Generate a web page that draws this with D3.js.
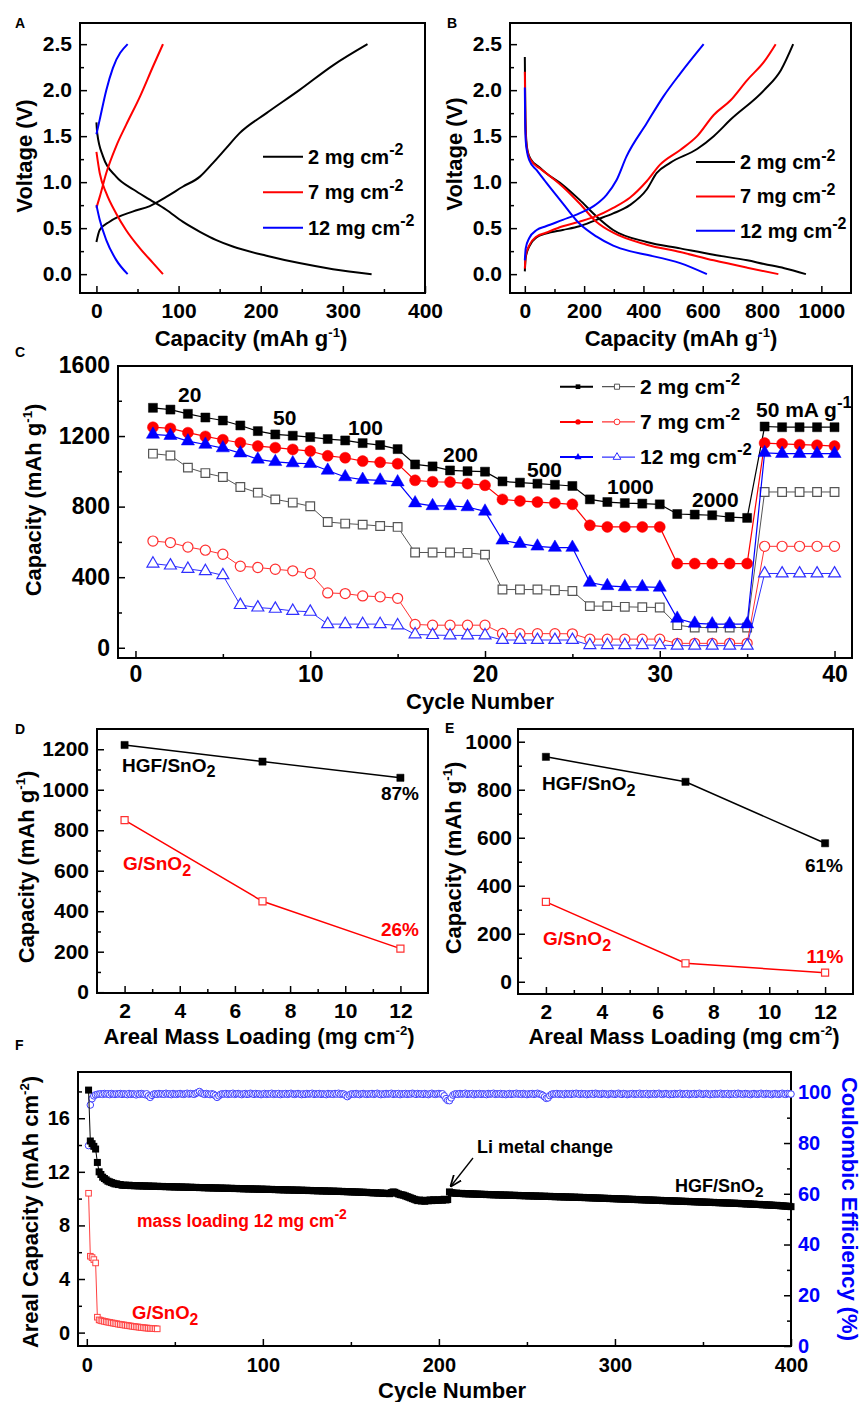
<!DOCTYPE html>
<html>
<head>
<meta charset="utf-8">
<title>SnO2 electrodes</title>
<script src="https://cdnjs.cloudflare.com/ajax/libs/d3/7.8.5/d3.min.js"></script>
<style>
  body { margin: 0; background: #fff; }
  svg text { font-family: "Liberation Sans", Arial, sans-serif; font-weight: bold; }
</style>
</head>
<body>
<svg id="fig" width="861" height="1402"></svg>
<script>
// ---------- data ----------
// A: voltage profiles, 2 / 7 / 12 mg cm-2  [capacity, voltage]
const aDis2 = [[0,1.65],[1,1.53],[8,1.28],[24,1.06],[45,0.92],[65,0.81],[85,0.70],[105,0.57],[126,0.46],[146,0.37],[166,0.30],[207,0.20],[247,0.12],[288,0.054],[335,0]]
const aCh2 = [[0,0.35],[4,0.48],[16,0.57],[44,0.68],[65,0.74],[85,0.84],[105,0.95],[126,1.06],[142,1.21],[158,1.37],[174,1.53],[207,1.75],[247,2.0],[288,2.27],[330,2.5]]
const aDis7 = [[0,1.33],[4,1.10],[12,0.88],[24,0.66],[36,0.48],[53,0.28],[69,0.12],[81,0]]
const aCh7 = [[0,0.72],[4,0.84],[12,1.10],[24,1.39],[36,1.62],[53,1.93],[69,2.26],[81,2.5]]
const aDis12 = [[0,0.75],[4,0.59],[12,0.37],[24,0.155],[38,0]]
const aCh12 = [[0,1.52],[4,1.68],[12,2.0],[20,2.24],[38,2.5]]

// B
const bDis2 = [[0,2.36],[1,2.0],[2,1.7],[5,1.45],[10,1.33],[20,1.25],[50,1.16],[71,1.10],[128,0.97],[184,0.81],[241,0.63],[298,0.48],[411,0.35],[524,0.28],[637,0.21],[750,0.15],[807,0.11],[875,0.065],[948,0]]
const bDis7 = [[0,2.2],[1,1.9],[2,1.65],[5,1.42],[10,1.32],[20,1.24],[50,1.15],[71,1.10],[128,0.95],[184,0.77],[241,0.57],[298,0.45],[411,0.32],[524,0.24],[637,0.15],[750,0.07],[855,0]]
const bDis12 = [[0,2.03],[1,1.7],[3,1.45],[8,1.32],[15,1.24],[40,1.13],[71,1.00],[128,0.77],[184,0.55],[241,0.41],[298,0.31],[354,0.25],[411,0.21],[524,0.12],[614,0]]
const bCh2 = [[0,0.03],[3,0.18],[14.6,0.30],[40,0.40],[71,0.44],[128,0.48],[184,0.52],[241,0.59],[298,0.66],[354,0.75],[411,0.92],[445,1.10],[490,1.21],[581,1.36],[637,1.50],[694,1.68],[807,2.0],[864,2.22],[905,2.5]]
const bCh7 = [[0,0.06],[3,0.2],[14.6,0.31],[40,0.41],[71,0.45],[128,0.52],[184,0.57],[241,0.63],[298,0.72],[354,0.83],[411,1.01],[456,1.19],[524,1.35],[581,1.50],[637,1.73],[694,1.89],[750,2.11],[807,2.31],[846,2.5]]
const bCh12 = [[0,0.15],[3,0.28],[14.6,0.39],[40,0.48],[71,0.52],[128,0.59],[184,0.66],[241,0.76],[275,0.86],[309,1.02],[343,1.28],[411,1.64],[467,1.93],[524,2.18],[603,2.5]]

// C: rate capability, cycles 1-40
const cyclesC = [1,2,3,4,5,6,7,8,9,10,11,12,13,14,15,16,17,18,19,20,21,22,23,24,25,26,27,28,29,30,31,32,33,34,35,36,37,38,39,40]
const hgf2 = [1360,1350,1326,1305,1288,1260,1228,1209,1202,1194,1183,1175,1160,1149,1126,1039,1028,1005,1001,998,943,936,930,924,917,841,826,820,817,813,758,755,751,741,736,1254,1250,1250,1250,1250]
const hgf7 = [1250,1243,1219,1198,1179,1162,1143,1134,1124,1115,1088,1077,1058,1051,1043,949,941,939,930,921,841,832,826,820,813,694,685,685,685,685,477,477,477,477,477,1160,1156,1151,1148,1143]
const hgf12 = [1209,1202,1171,1152,1132,1103,1068,1054,1047,1043,1005,968,953,949,939,820,804,804,798,773,609,590,575,568,568,370,351,345,345,342,166,138,134,134,134,1105,1100,1100,1100,1100]
const gs2 = [1100,1090,1021,990,968,911,879,841,823,802,713,704,698,690,685,540,540,540,538,528,330,330,330,326,322,236,236,232,230,228,128,115,115,115,115,883,883,883,883,883]
const gs7 = [605,596,571,553,530,462,455,445,436,421,311,307,294,289,280,132,128,128,128,128,81,80,80,80,79,49,49,49,49,49,25,25,25,25,25,575,575,575,575,575]
const gs12 = [477,466,447,434,411,242,228,221,209,204,134,134,134,134,127,76,72,70,70,70,44,44,44,44,44,15,15,15,15,15,12,12,12,12,12,421,421,421,421,421]
const rateLabels = [["20",178,402],["50",273,425],["100",348,435],["200",443,462],["500",527,477],["1000",607,494],["2000",692,507]]

// D, E: capacity vs loading
const loading = [2,7,12]
const hgfD = [1221,1139,1059]
const gD = [850,449,215]
const hgfE = [937,833,577]
const gE = [333,77,38]

// F: long cycling at 12 mg cm-2
const hgfF = [
18.1,14.3,14.1,13.9,13.7,12.7,12.0,11.8,11.6,11.5,11.4,11.3,11.25,11.2,11.15,11.1,11.1,11.05,11.05,11.0,
11.0,11.0,10.98,11.0,10.97,10.98,10.96,10.97,10.95,10.96,10.95,10.94,10.95,10.93,10.94,10.93,10.92,10.93,10.91,10.92,
10.91,10.9,10.91,10.9,10.89,10.9,10.88,10.89,10.88,10.87,10.88,10.87,10.86,10.87,10.85,10.86,10.85,10.84,10.85,10.84,
10.83,10.84,10.83,10.82,10.83,10.82,10.81,10.82,10.8,10.81,10.8,10.79,10.8,10.79,10.78,10.79,10.78,10.77,10.78,10.77,
10.76,10.77,10.76,10.75,10.76,10.75,10.74,10.75,10.73,10.74,10.73,10.72,10.73,10.72,10.71,10.72,10.71,10.7,10.71,10.7,
10.69,10.7,10.69,10.68,10.69,10.68,10.67,10.68,10.66,10.67,10.66,10.65,10.66,10.65,10.64,10.65,10.64,10.63,10.64,10.63,
10.62,10.63,10.62,10.61,10.62,10.6,10.61,10.6,10.59,10.6,10.58,10.59,10.58,10.57,10.58,10.56,10.57,10.56,10.55,10.56,
10.55,10.54,10.55,10.53,10.54,10.52,10.53,10.51,10.52,10.5,10.51,10.49,10.5,10.48,10.49,10.47,10.48,10.46,10.47,10.45,
10.45,10.44,10.43,10.44,10.42,10.41,10.42,10.4,10.39,10.4,10.38,10.37,10.45,10.5,10.47,10.4,10.35,10.3,10.28,10.25,
10.2,10.15,10.1,10.05,10.0,9.95,9.9,9.85,9.9,9.82,9.85,9.8,9.88,9.84,9.9,9.85,9.92,9.86,9.9,9.88,
9.92,9.88,9.95,9.9,9.93,10.5,10.45,10.42,10.4,10.41,10.39,10.38,10.39,10.37,10.36,10.37,10.35,10.36,10.34,10.35,
10.33,10.34,10.32,10.33,10.31,10.32,10.3,10.31,10.29,10.3,10.28,10.29,10.28,10.27,10.28,10.26,10.27,10.26,10.25,10.26,
10.25,10.24,10.25,10.23,10.24,10.22,10.23,10.22,10.21,10.22,10.2,10.21,10.2,10.19,10.2,10.18,10.19,10.18,10.17,10.18,
10.17,10.16,10.17,10.15,10.16,10.14,10.15,10.14,10.13,10.14,10.12,10.13,10.12,10.11,10.12,10.1,10.11,10.1,10.09,10.1,
10.08,10.09,10.07,10.08,10.06,10.07,10.05,10.06,10.04,10.05,10.03,10.04,10.02,10.03,10.01,10.02,10.0,10.01,9.99,10.0,
9.98,9.99,9.97,9.98,9.96,9.97,9.95,9.96,9.94,9.95,9.93,9.94,9.92,9.93,9.91,9.92,9.9,9.91,9.89,9.9,
9.88,9.89,9.87,9.88,9.86,9.87,9.85,9.86,9.84,9.85,9.83,9.84,9.82,9.83,9.81,9.82,9.8,9.81,9.79,9.8,
9.78,9.79,9.77,9.78,9.76,9.77,9.75,9.76,9.74,9.75,9.73,9.74,9.72,9.73,9.71,9.72,9.7,9.71,9.69,9.7,
9.68,9.69,9.67,9.68,9.66,9.67,9.65,9.66,9.64,9.65,9.63,9.62,9.63,9.61,9.6,9.61,9.59,9.58,9.59,9.57,
9.56,9.57,9.55,9.54,9.55,9.53,9.52,9.53,9.51,9.5,9.49,9.5,9.48,9.47,9.46,9.45,9.44,9.43,9.42,9.4]
const ceF = [
79,95,97.5,98.6,99.0,99.2,99.3,99.4,99.2,99.5,99.3,99.4,99.1,99.5,99.3,99.2,99.4,99.3,99.5,99.2,
99.4,99.3,99.1,99.5,99.2,99.4,99.3,99.0,99.4,99.2,99.5,99.3,99.1,99.4,98.6,98.0,98.8,99.3,99.4,99.2,
99.5,99.3,99.4,99.2,99.6,99.3,99.4,99.1,99.5,99.3,99.2,99.4,99.5,99.3,99.2,99.4,99.6,99.3,99.5,99.4,
99.2,99.6,99.9,100.3,99.7,99.4,99.2,99.5,99.3,99.1,99.4,99.2,98.7,98.0,98.6,99.2,99.4,99.3,99.5,99.2,
99.4,99.3,99.6,99.2,99.4,99.5,99.3,99.1,99.4,99.5,99.2,99.3,99.6,99.4,99.2,99.5,99.3,99.4,99.1,99.3,
99.5,99.2,99.4,99.3,99.6,99.2,99.4,99.3,99.5,99.1,99.4,99.3,99.5,99.2,99.4,99.6,99.3,99.2,99.4,99.5,
99.3,99.1,99.4,99.2,99.5,99.3,99.4,99.6,99.2,99.4,99.3,99.5,99.2,99.4,99.3,99.1,99.5,99.3,99.4,99.2,
99.5,99.3,99.6,99.2,99.4,99.3,98.8,98.3,98.9,99.3,99.4,99.2,99.5,99.3,99.1,99.4,99.5,99.3,99.2,99.4,
99.3,99.5,99.2,99.4,99.6,99.3,99.1,99.4,99.2,99.5,99.3,99.4,99.6,99.2,99.4,99.3,99.5,99.1,99.4,99.3,
99.5,99.2,99.4,99.3,99.6,99.4,99.2,99.5,99.3,99.4,99.2,99.5,99.3,99.1,99.4,99.6,99.3,99.2,99.4,99.5,
99.3,99.4,98.6,97.5,96.8,96.7,97.8,98.9,99.3,99.4,99.2,99.5,99.3,99.4,99.6,99.2,99.4,99.3,99.5,99.1,
99.4,99.3,99.5,99.2,99.4,99.3,99.1,99.5,99.3,99.4,99.6,99.2,99.4,99.3,99.5,99.2,99.4,99.1,99.3,99.5,
99.2,99.4,99.3,99.6,99.3,99.4,99.2,99.5,99.3,99.1,99.4,99.3,99.5,99.2,99.4,99.6,99.3,99.2,98.8,98.2,
97.6,97.8,98.7,99.2,99.4,99.3,99.5,99.2,99.4,99.3,99.1,99.5,99.3,99.4,99.2,99.5,99.3,99.6,99.4,99.2,
99.5,99.3,99.4,99.1,99.4,99.3,99.5,99.2,99.6,99.4,99.3,99.2,99.5,99.4,99.3,99.1,99.4,99.5,99.3,99.2,
99.4,99.6,99.3,99.2,99.5,99.4,99.1,99.3,99.4,99.5,99.2,99.4,99.3,99.6,99.2,99.4,99.3,99.5,99.1,99.4,
99.3,99.5,99.2,99.4,99.6,99.3,99.2,99.4,99.5,99.3,99.1,99.4,99.2,99.5,99.3,99.4,99.6,99.2,99.4,99.3,
99.5,99.1,99.4,99.3,99.5,99.2,99.4,99.6,99.3,99.2,99.4,99.5,99.3,99.1,99.4,99.2,99.5,99.3,99.4,99.6,
99.2,99.4,99.3,99.5,99.1,99.4,99.3,99.5,99.2,99.6,99.4,99.3,99.2,99.5,99.4,99.3,99.1,99.4,99.5,99.3,
99.2,99.4,99.6,99.3,99.2,99.5,99.4,99.3,99.1,99.4,99.5,99.3,99.2,99.4,99.6,99.3,99.2,99.5,99.4,99.3]
const gF = [10.4,5.7,5.6,5.45,5.2,1.15,0.95,0.9,0.87,0.84,0.81,0.78,0.76,0.73,0.71,0.68,0.66,0.63,0.61,0.59,
0.57,0.55,0.53,0.51,0.49,0.47,0.45,0.43,0.42,0.40,0.38,0.37,0.35,0.34,0.33,0.32,0.31,0.30,0.29,0.28]

const RED = "#ff0000", BLUE = "#0000ff"
const svg = d3.select("#fig")

// ---------- helpers ----------
function makePanel(o) {
  const g = svg.append("g")
  const x = d3.scaleLinear().domain(o.xd).range([o.l, o.r])
  const y = d3.scaleLinear().domain(o.yd).range([o.b, o.t])
  const fs = o.fs || 21
  g.append("g").attr("transform", `translate(0,${o.b})`)
    .call(d3.axisBottom(x).tickValues(o.xMinor).tickSize(-4).tickFormat(""))
  g.append("g").attr("transform", `translate(0,${o.b})`)
    .call(d3.axisBottom(x).tickValues(o.xMajor).tickSize(-7).tickPadding(o.xPad || 10).tickFormat(o.xFmt || d3.format("d")))
  g.append("g").attr("transform", `translate(${o.l},0)`)
    .call(d3.axisLeft(y).tickValues(o.yMinor).tickSize(-4).tickFormat(""))
  g.append("g").attr("transform", `translate(${o.l},0)`)
    .call(d3.axisLeft(y).tickValues(o.yMajor).tickSize(-7).tickPadding(o.yPad || 8).tickFormat(o.yFmt || d3.format("d")))
  g.selectAll(".domain").remove()
  g.selectAll(".tick line").attr("stroke-width", 1.5)
  g.selectAll(".tick text").attr("font-size", fs).attr("fill", "#000")
  g.append("rect").attr("x", o.l).attr("y", o.t).attr("width", o.r - o.l).attr("height", o.b - o.t)
    .attr("fill", "none").attr("stroke", "#000").attr("stroke-width", 2)
  return { g, x, y }
}

function label(x, y, parts, o = {}) {
  const fs = o.fs || 20
  const t = svg.append("text").attr("x", x).attr("y", y)
    .attr("font-size", fs).attr("fill", o.fill || "#000")
    .attr("text-anchor", o.anchor || "start")
  if (o.rotate) t.attr("transform", `rotate(${o.rotate},${x},${y})`)
  let shift = 0
  parts.forEach(p => {
    const s = t.append("tspan")
    if (typeof p === "string") {
      s.text(p)
      if (shift) { s.attr("dy", -shift); shift = 0 }
    } else {
      const d = p.sup ? -fs * 0.42 : fs * 0.3
      s.attr("font-size", fs * (p.k || 0.65)).attr("dy", d - shift).text(p.t)
      shift = d
    }
  })
  return t
}

function curve(p, data, color) {
  p.g.append("path").datum(data)
    .attr("d", d3.line().x(d => p.x(d[0])).y(d => p.y(d[1])).curve(d3.curveMonotoneX))
    .attr("fill", "none").attr("stroke", color).attr("stroke-width", 2)
}

function series(p, xs, ys, o) {
  const pts = xs.map((c, i) => [c, ys[i]])
  p.g.append("path").datum(pts)
    .attr("d", d3.line().x(d => p.x(d[0])).y(d => p.y(d[1])))
    .attr("fill", "none").attr("stroke", o.line || o.color).attr("stroke-width", o.lw || 1.2)
  p.g.selectAll(null).data(pts).enter().append("path")
    .attr("transform", d => `translate(${p.x(d[0])},${p.y(d[1])})`)
    .attr("d", d3.symbol().type(o.sym).size(o.size))
    .attr("fill", o.open ? "#fff" : o.color)
    .attr("stroke", o.color).attr("stroke-width", o.open ? 1.2 : 0.5)
}

// ---------- panel letters ----------
;[["A",15,28],["B",447,28],["C",15,357],["D",15,734],["E",445,733],["F",15,1050]].forEach(d =>
  label(d[1], d[2], [d[0]], { fs: 14 }))

// ---------- A ----------
const fmt1 = d3.format(".1f")
const vMinor = [0.25, 0.75, 1.25, 1.75, 2.25]
const A = makePanel({ l: 80, t: 23, r: 425, b: 293, xd: [-20, 400], yd: [-0.205, 2.73],
  xMajor: [0, 100, 200, 300, 400], xMinor: [50, 150, 250, 350],
  yMajor: [0, 0.5, 1, 1.5, 2, 2.5], yMinor: vMinor, yFmt: fmt1 })
curve(A, aDis2, "#000"); curve(A, aCh2, "#000")
curve(A, aDis7, RED); curve(A, aCh7, RED)
curve(A, aDis12, BLUE); curve(A, aCh12, BLUE)

// ---------- B ----------
const B = makePanel({ l: 510, t: 23, r: 851, b: 293, xd: [-50, 1100], yd: [-0.205, 2.73],
  xMajor: [0, 200, 400, 600, 800, 1000], xMinor: [100, 300, 500, 700, 900],
  yMajor: [0, 0.5, 1, 1.5, 2, 2.5], yMinor: vMinor, yFmt: fmt1 })
curve(B, bDis2, "#000"); curve(B, bCh2, "#000")
curve(B, bDis7, RED); curve(B, bCh7, RED)
curve(B, bDis12, BLUE); curve(B, bCh12, BLUE)

const legAB = [["2", "#000"], ["7", RED], ["12", BLUE]]
legAB.forEach((d, i) => {
  ;[[263, 303, 308, 156.7 + i * 35.5], [696, 735, 740, 162 + i * 34.4]].forEach(r => {
    svg.append("line").attr("x1", r[0]).attr("x2", r[1]).attr("y1", r[3]).attr("y2", r[3])
      .attr("stroke", d[1]).attr("stroke-width", 2)
    label(r[2], r[3] + 7, [d[0] + " mg cm", { t: "-2", sup: true, k: 0.8 }], { fs: 20 })
  })
})

const capTitle = ["Capacity (mAh g", { t: "-1", sup: true, k: 0.6 }, ")"]
label(32, 156, ["Voltage (V)"], { fs: 22, anchor: "middle", rotate: -90 })
label(462, 154, ["Voltage (V)"], { fs: 22, anchor: "middle", rotate: -90 })
label(251, 346, capTitle, { fs: 22, anchor: "middle" })
label(681, 346, capTitle, { fs: 22, anchor: "middle" })

// ---------- C ----------
const C = makePanel({ l: 118, t: 366, r: 852, b: 658, xd: [-1, 41], yd: [-58, 1597],
  xMajor: [0, 10, 20, 30, 40], xMinor: [5, 15, 25, 35],
  yMajor: [0, 400, 800, 1200, 1600], yMinor: [200, 600, 1000, 1400], fs: 23, xPad: 8 })
series(C, cyclesC, gs2, { color: "#555", sym: d3.symbolSquare, size: 75, open: true, lw: 1 })
series(C, cyclesC, gs7, { color: "#ff3030", sym: d3.symbolCircle, size: 80, open: true, lw: 1 })
series(C, cyclesC, gs12, { color: "#3030ff", sym: d3.symbolTriangle, size: 62, open: true, lw: 1 })
series(C, cyclesC, hgf2, { color: "#000", sym: d3.symbolSquare, size: 81 })
series(C, cyclesC, hgf7, { color: RED, sym: d3.symbolCircle, size: 95 })
series(C, cyclesC, hgf12, { color: BLUE, sym: d3.symbolTriangle, size: 75 })

rateLabels.forEach(d => label(d[1], d[2], [d[0]], { fs: 21 }))
label(756, 417, ["50 mA g", { t: "-1", sup: true, k: 0.8 }], { fs: 21 })

const legC = [["2", "#000", "#555", d3.symbolSquare], ["7", RED, "#ff3030", d3.symbolCircle], ["12", BLUE, "#3030ff", d3.symbolTriangle]]
legC.forEach((d, i) => {
  const yy = 386.7 + i * 35.2
  svg.append("line").attr("x1", 560).attr("x2", 593).attr("y1", yy).attr("y2", yy).attr("stroke", d[1]).attr("stroke-width", 2)
  svg.append("line").attr("x1", 602).attr("x2", 635).attr("y1", yy).attr("y2", yy).attr("stroke", d[2]).attr("stroke-width", 1.2)
  svg.append("path").attr("transform", `translate(578,${yy})`).attr("d", d3.symbol().type(d[3]).size(22)).attr("fill", d[1])
  svg.append("path").attr("transform", `translate(617,${yy})`).attr("d", d3.symbol().type(d[3]).size(26))
    .attr("fill", "#fff").attr("stroke", d[2]).attr("stroke-width", 1)
  label(640, yy + 7, [d[0] + " mg cm", { t: "-2", sup: true, k: 0.8 }], { fs: 21 })
})
label(41, 500, capTitle, { fs: 22, anchor: "middle", rotate: -90 })
label(480, 709, ["Cycle Number"], { fs: 22, anchor: "middle" })

// ---------- D ----------
const loadMinor = [3, 5, 7, 9, 11]
const D = makePanel({ l: 97, t: 729, r: 428, b: 993, xd: [1, 13], yd: [-4, 1300],
  xMajor: [2, 4, 6, 8, 10, 12], xMinor: loadMinor,
  yMajor: [0, 200, 400, 600, 800, 1000, 1200], yMinor: [100, 300, 500, 700, 900, 1100] })
series(D, loading, hgfD, { color: "#000", sym: d3.symbolSquare, size: 52, lw: 1.5 })
series(D, loading, gD, { color: "#ff3030", line: RED, sym: d3.symbolSquare, size: 50, open: true, lw: 1.5 })
label(122, 771.7, ["HGF/SnO", { t: "2", k: 0.85 }], { fs: 19 })
label(400, 800, ["87%"], { fs: 19, anchor: "middle" })
label(123, 870, ["G/SnO", { t: "2", k: 0.85 }], { fs: 19, fill: RED })
label(400, 936, ["26%"], { fs: 19, anchor: "middle", fill: RED })
label(34, 867, capTitle, { fs: 22, anchor: "middle", rotate: -90 })

// ---------- E ----------
const E = makePanel({ l: 518, t: 729, r: 853, b: 994, xd: [1, 13], yd: [-51, 1053],
  xMajor: [2, 4, 6, 8, 10, 12], xMinor: loadMinor,
  yMajor: [0, 200, 400, 600, 800, 1000], yMinor: [100, 300, 500, 700, 900], yPad: 6 })
series(E, loading, hgfE, { color: "#000", sym: d3.symbolSquare, size: 52, lw: 1.5 })
series(E, loading, gE, { color: "#ff3030", line: RED, sym: d3.symbolSquare, size: 50, open: true, lw: 1.5 })
label(542, 790, ["HGF/SnO", { t: "2", k: 0.85 }], { fs: 19 })
label(824, 872, ["61%"], { fs: 19, anchor: "middle" })
label(543, 945, ["G/SnO", { t: "2", k: 0.85 }], { fs: 19, fill: RED })
label(825, 963, ["11%"], { fs: 19, anchor: "middle", fill: RED })
label(461, 858, capTitle, { fs: 22, anchor: "middle", rotate: -90 })

const loadTitle = ["Areal Mass Loading (mg cm", { t: "-2", sup: true, k: 0.6 }, ")"]
label(259, 1044, loadTitle, { fs: 22, anchor: "middle" })
label(684, 1044, loadTitle, { fs: 22, anchor: "middle" })

// ---------- F ----------
const F = makePanel({ l: 78, t: 1072, r: 791, b: 1346, xd: [-5, 400], yd: [-1, 19.45],
  xMajor: [0, 100, 200, 300, 400], xMinor: [50, 150, 250, 350],
  yMajor: [0, 4, 8, 12, 16], yMinor: [2, 6, 10, 14, 18], fs: 20, xPad: 12 })
const y2 = d3.scaleLinear().domain([0, 108]).range([1346, 1072])
const rAx = F.g.append("g").attr("transform", "translate(791,0)")
rAx.append("g").call(d3.axisRight(y2).tickValues([10, 30, 50, 70, 90]).tickSize(-4).tickFormat(""))
rAx.append("g").call(d3.axisRight(y2).tickValues([0, 20, 40, 60, 80, 100]).tickSize(-7).tickPadding(7))
rAx.selectAll(".domain").remove()
rAx.selectAll(".tick line").attr("stroke-width", 1.5).attr("stroke", "#000")
rAx.selectAll(".tick text").attr("font-size", 20).attr("fill", BLUE)

const cyc = (d, i) => i + 1
F.g.selectAll(null).data(ceF).enter().append("circle")
  .attr("cx", (d, i) => F.x(cyc(d, i))).attr("cy", d => y2(d)).attr("r", 3.3)
  .attr("fill", "#fff").attr("stroke", "#4040ff").attr("stroke-width", 1)
F.g.append("path").datum(hgfF)
  .attr("d", d3.line().x((d, i) => F.x(cyc(d, i))).y(d => F.y(d)))
  .attr("fill", "none").attr("stroke", "#000").attr("stroke-width", 1)
F.g.selectAll(null).data(hgfF).enter().append("rect")
  .attr("x", (d, i) => F.x(cyc(d, i)) - 3.5).attr("y", d => F.y(d) - 3.5)
  .attr("width", 7).attr("height", 7).attr("fill", "#000")
F.g.append("path").datum(gF)
  .attr("d", d3.line().x((d, i) => F.x(cyc(d, i))).y(d => F.y(d)))
  .attr("fill", "none").attr("stroke", "#ff4040").attr("stroke-width", 1)
F.g.selectAll(null).data(gF).enter().append("rect")
  .attr("x", (d, i) => F.x(cyc(d, i)) - 2.8).attr("y", d => F.y(d) - 2.8)
  .attr("width", 5.6).attr("height", 5.6).attr("fill", "#fff").attr("stroke", "#ff4040").attr("stroke-width", 1)

svg.append("defs").append("marker").attr("id", "arr").attr("viewBox", "0 0 10 10")
  .attr("refX", 9).attr("refY", 5).attr("markerWidth", 9).attr("markerHeight", 9).attr("orient", "auto")
  .append("path").attr("d", "M0,1 L10,5 L0,9").attr("fill", "none").attr("stroke", "#000").attr("stroke-width", 1.5)
svg.append("line").attr("x1", 473).attr("y1", 1158).attr("x2", 451).attr("y2", 1186)
  .attr("stroke", "#000").attr("stroke-width", 1.3).attr("marker-end", "url(#arr)")
label(477, 1153, ["Li metal change"], { fs: 18 })
label(675, 1191.7, ["HGF/SnO", { t: "2", k: 0.85 }], { fs: 18 })
label(137, 1226.7, ["mass loading 12 mg cm", { t: "-2", sup: true, k: 0.8 }], { fs: 17.5, fill: RED })
label(132, 1319, ["G/SnO", { t: "2", k: 0.85 }], { fs: 18.5, fill: RED })

label(38, 1212, ["Areal Capacity (mAh cm", { t: "-2", sup: true, k: 0.6 }, ")"], { fs: 22, anchor: "middle", rotate: -90 })
label(842, 1209, ["Coulombic Efficiency (%)"], { fs: 22, anchor: "middle", rotate: 90, fill: BLUE })
label(452, 1398, ["Cycle Number"], { fs: 22, anchor: "middle" })
</script>
</body>
</html>
